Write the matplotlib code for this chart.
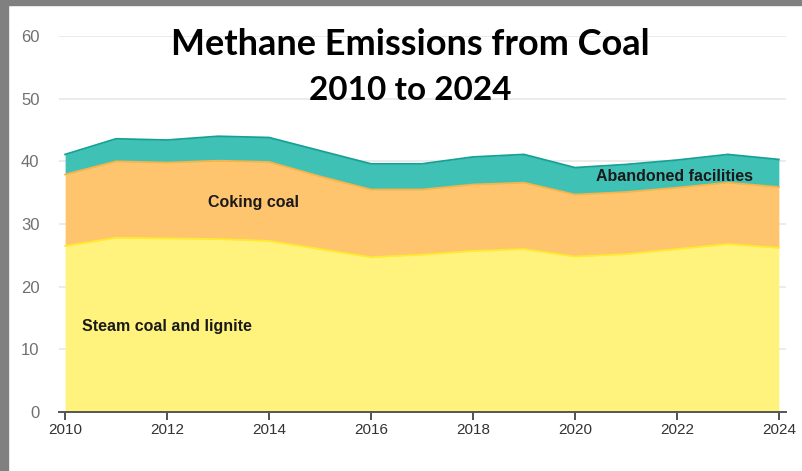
import numpy as np
import matplotlib
matplotlib.use('Agg')
import matplotlib.pyplot as plt
from matplotlib.patches import Rectangle

# values (stacked layers, Mt)
years = np.arange(2010, 2025)
steam = [26.5, 27.8, 27.7, 27.6, 27.3, 26.0, 24.7, 25.1, 25.7, 26.0, 24.8, 25.2, 26.0, 26.8, 26.2]
coking = [11.4, 12.2, 12.1, 12.5, 12.6, 11.6, 10.8, 10.4, 10.6, 10.6, 9.9, 9.9, 9.8, 9.8, 9.7]
abandoned = [3.2, 3.6, 3.6, 3.9, 3.9, 4.1, 4.1, 4.1, 4.4, 4.5, 4.3, 4.4, 4.4, 4.5, 4.4]

layer_names = ['Steam coal and lignite', 'Coking coal', 'Abandoned facilities']
fill_colors = ['#FFF37E', '#FEC56E', '#40C1B6']
edge_colors = ['#FFEA2E', '#F9B447', '#15A195']
yticks = [0, 10, 20, 30, 40, 50, 60]
xticks = [2010, 2012, 2014, 2016, 2018, 2020, 2022, 2024]

fig = plt.figure(figsize=(8.02, 4.71), dpi=100)
ax = fig.add_axes([59 / 802, 1 - 412 / 471, 727 / 802, 376 / 471])

base = np.zeros(len(years))
for vals, fc, ec in zip([steam, coking, abandoned], fill_colors, edge_colors):
    top = base + np.array(vals)
    ax.fill_between(years, base, top, color=fc, lw=0, zorder=2)
    ax.plot(years, top, color=ec, lw=1.3, zorder=3)
    base = top

ax.set_xlim(2009.88, 2024.14)
ax.set_ylim(0, 60)
ax.set_yticks(yticks)
ax.set_xticks(xticks)
ax.yaxis.grid(True, color='#ebebeb', lw=1.4, zorder=0)
ax.set_axisbelow(True)
for s in ['top', 'right', 'left']:
    ax.spines[s].set_visible(False)
ax.spines['bottom'].set_color('#555555')
ax.spines['bottom'].set_linewidth(1.4)
ax.spines['bottom'].set_zorder(4)
ax.tick_params(axis='y', length=0, pad=14, labelsize=12, labelcolor='#707070')
ax.tick_params(axis='x', length=6, width=1.2, color='#333333', pad=2,
               labelsize=11, labelcolor='#333333')
for lab in ax.get_xticklabels() + ax.get_yticklabels():
    lab.set_family('Liberation Sans')

ax.text(2010.33, 13.6, layer_names[0], fontsize=11.5, fontweight='bold',
        family='Liberation Sans', color='#1a1a1a', va='center', zorder=5)
ax.text(2013.69, 33.5, layer_names[1], fontsize=11.5, fontweight='bold',
        family='Liberation Sans', color='#1a1a1a', ha='center', va='center', zorder=5)
ax.text(2021.96, 37.6, layer_names[2], fontsize=11.5, fontweight='bold',
        family='Liberation Sans', color='#1a1a1a', ha='center', va='center', zorder=5)

fig.text(410 / 802, 1 - 55 / 471, 'Methane Emissions from Coal', fontsize=26,
         fontweight='bold', family='Lato', ha='center', va='baseline')
fig.text(410 / 802, 1 - 100 / 471, '2010 to 2024', fontsize=24,
         fontweight='bold', family='Lato', ha='center', va='baseline')

# grey frame strips (left and top) seen in the reference screenshot
fig.patches.append(Rectangle((0, 0), 8 / 802, 1, transform=fig.transFigure,
                             color='#808080', zorder=10))
fig.patches.append(Rectangle((0, 1 - 5 / 471), 1, 5 / 471, transform=fig.transFigure,
                             color='#808080', zorder=10))

fig.savefig('out.png', dpi=100)
